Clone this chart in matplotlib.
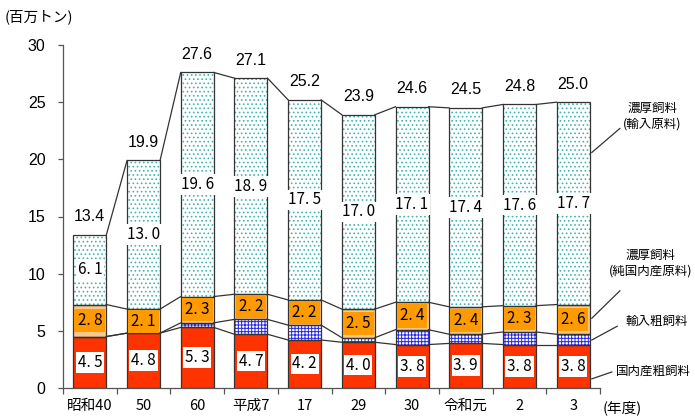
import matplotlib
matplotlib.use("Agg")
import matplotlib.pyplot as plt
import numpy as np

# Feed supply by fiscal year (million tons)
years = ["昭和40", "50", "60", "平成7", "17", "29", "30", "令和元", "2", "3"]
domestic_roughage = [4.5, 4.8, 5.3, 4.7, 4.2, 4.0, 3.8, 3.9, 3.8, 3.8]
imported_roughage = [0.0, 0.0, 0.4, 1.3, 1.3, 0.4, 1.3, 0.8, 1.1, 0.9]
domestic_concentrate = [2.8, 2.1, 2.3, 2.2, 2.2, 2.5, 2.4, 2.4, 2.3, 2.6]
imported_concentrate = [6.1, 13.0, 19.6, 18.9, 17.5, 17.0, 17.1, 17.4, 17.6, 17.7]
totals = [13.4, 19.9, 27.6, 27.1, 25.2, 23.9, 24.6, 24.5, 24.8, 25.0]

JP = ["Noto Sans CJK JP", "DejaVu Sans"]
NUM = ["Liberation Sans", "DejaVu Sans"]

plt.rcParams["hatch.linewidth"] = 0.7

W, H = 695, 417
fig = plt.figure(figsize=(W / 100, H / 100), dpi=100)
ax = fig.add_axes([63 / W, 29 / H, 537 / W, 343 / H])

x = np.arange(len(years))
bw = 0.615
edge = "#333333"

series = [
    (domestic_roughage, "#FF3300", None, None),
    (imported_roughage, "white", "#2828E6", "+++++"),
    (domestic_concentrate, "#FAC98A", None, None),
    (imported_concentrate, "white", "#40B6B4", "...."),
]

bottom = np.zeros(len(years))
levels = []
for vals, face, hcol, hatch in series:
    vals = np.array(vals)
    if hatch:
        ax.bar(x, vals, bw, bottom=bottom, color=face, edgecolor=hcol,
               hatch=hatch, linewidth=0, zorder=2)
    else:
        ax.bar(x, vals, bw, bottom=bottom, color=face, linewidth=0, zorder=2)
    ax.bar(x, vals, bw, bottom=bottom, fill=False, edgecolor=edge,
           linewidth=0.9, zorder=3)
    bottom = bottom + vals
    levels.append(bottom.copy())

# connector lines between neighbouring columns
for lvl in levels:
    for i in range(len(x) - 1):
        ax.plot([x[i] + bw / 2, x[i + 1] - bw / 2], [lvl[i], lvl[i + 1]],
                color=edge, linewidth=0.9, zorder=3)


def fmt(v):
    return f"{v:.1f}".replace(".", ". ")


for i in range(len(x)):
    d = domestic_roughage[i]
    ax.text(x[i], d / 2, fmt(d), ha="center", va="center", fontsize=11,
            family=JP, zorder=5,
            bbox=dict(boxstyle="square,pad=0.12", fc="white", ec="none"))
    base = d + imported_roughage[i]
    c = domestic_concentrate[i]
    ax.text(x[i], base + c / 2, fmt(c), ha="center", va="center", fontsize=11,
            family=JP, zorder=5,
            bbox=dict(boxstyle="square,pad=0.2", fc="#FF9A00", ec="none"))
    base += c
    ic = imported_concentrate[i]
    ax.text(x[i], base + ic / 2, fmt(ic), ha="center", va="center", fontsize=11,
            family=JP, zorder=5,
            bbox=dict(boxstyle="square,pad=0.12", fc="white", ec="none"))
    ax.annotate(f"{totals[i]:.1f}", (x[i], totals[i]), xytext=(0, 13),
                textcoords="offset points", ha="center", va="center",
                fontsize=11.5, family=NUM, zorder=5)

ax.set_xlim(-0.5, len(x) - 0.5)
ax.set_ylim(0, 30)
ax.set_yticks([0, 5, 10, 15, 20, 25, 30])
ax.tick_params(axis="y", length=3.5, width=0.9, color="#555555", pad=9,
               labelsize=11.5)
for lab in ax.get_yticklabels():
    lab.set_family(NUM)

ax.set_xticks(np.arange(len(x) + 1) - 0.5)
ax.set_xticklabels([])
ax.tick_params(axis="x", which="major", length=4, width=0.9, color="#555555")
ax.set_xticks(x, minor=True)
ax.set_xticklabels(years, minor=True, fontsize=10.5, family=JP)
ax.tick_params(axis="x", which="minor", length=0, pad=8)

for s in ["top", "right"]:
    ax.spines[s].set_visible(False)
for s in ["left", "bottom"]:
    ax.spines[s].set_color("#555555")
    ax.spines[s].set_linewidth(0.9)

fig.text(39 / W, 1 - 17 / H, "(百万トン)", ha="center", va="center",
         fontsize=10.5, family=JP)
fig.text(622 / W, 1 - 408 / H, "(年度)", ha="center", va="center",
         fontsize=10.5, family=JP)

# series labels at the right, with leader lines
right = x[-1] + bw / 2
notes = [
    ((right + 0.04, 20.6), (9.87, 22.7), (10.47, 23.75), "濃厚飼料\n(輸入原料)"),
    ((right + 0.04, 6.1), (9.87, 8.5), (10.44, 10.9), "濃厚飼料\n(純国内産原料)"),
    ((right + 0.04, 4.2), (9.82, 5.4), (10.55, 5.85), "輸入粗飼料"),
    ((right + 0.04, 0.8), (9.72, 1.4), (10.5, 1.45), "国内産粗飼料"),
]
for (x0, y0), (x1, y1), (tx, ty), label in notes:
    ax.plot([x0, x1], [y0, y1], color=edge, linewidth=0.9, clip_on=False)
    ax.text(tx, ty, label, ha="center", va="center", fontsize=9,
            family=JP, linespacing=1.3, clip_on=False)

fig.savefig("out.png", dpi=100)
